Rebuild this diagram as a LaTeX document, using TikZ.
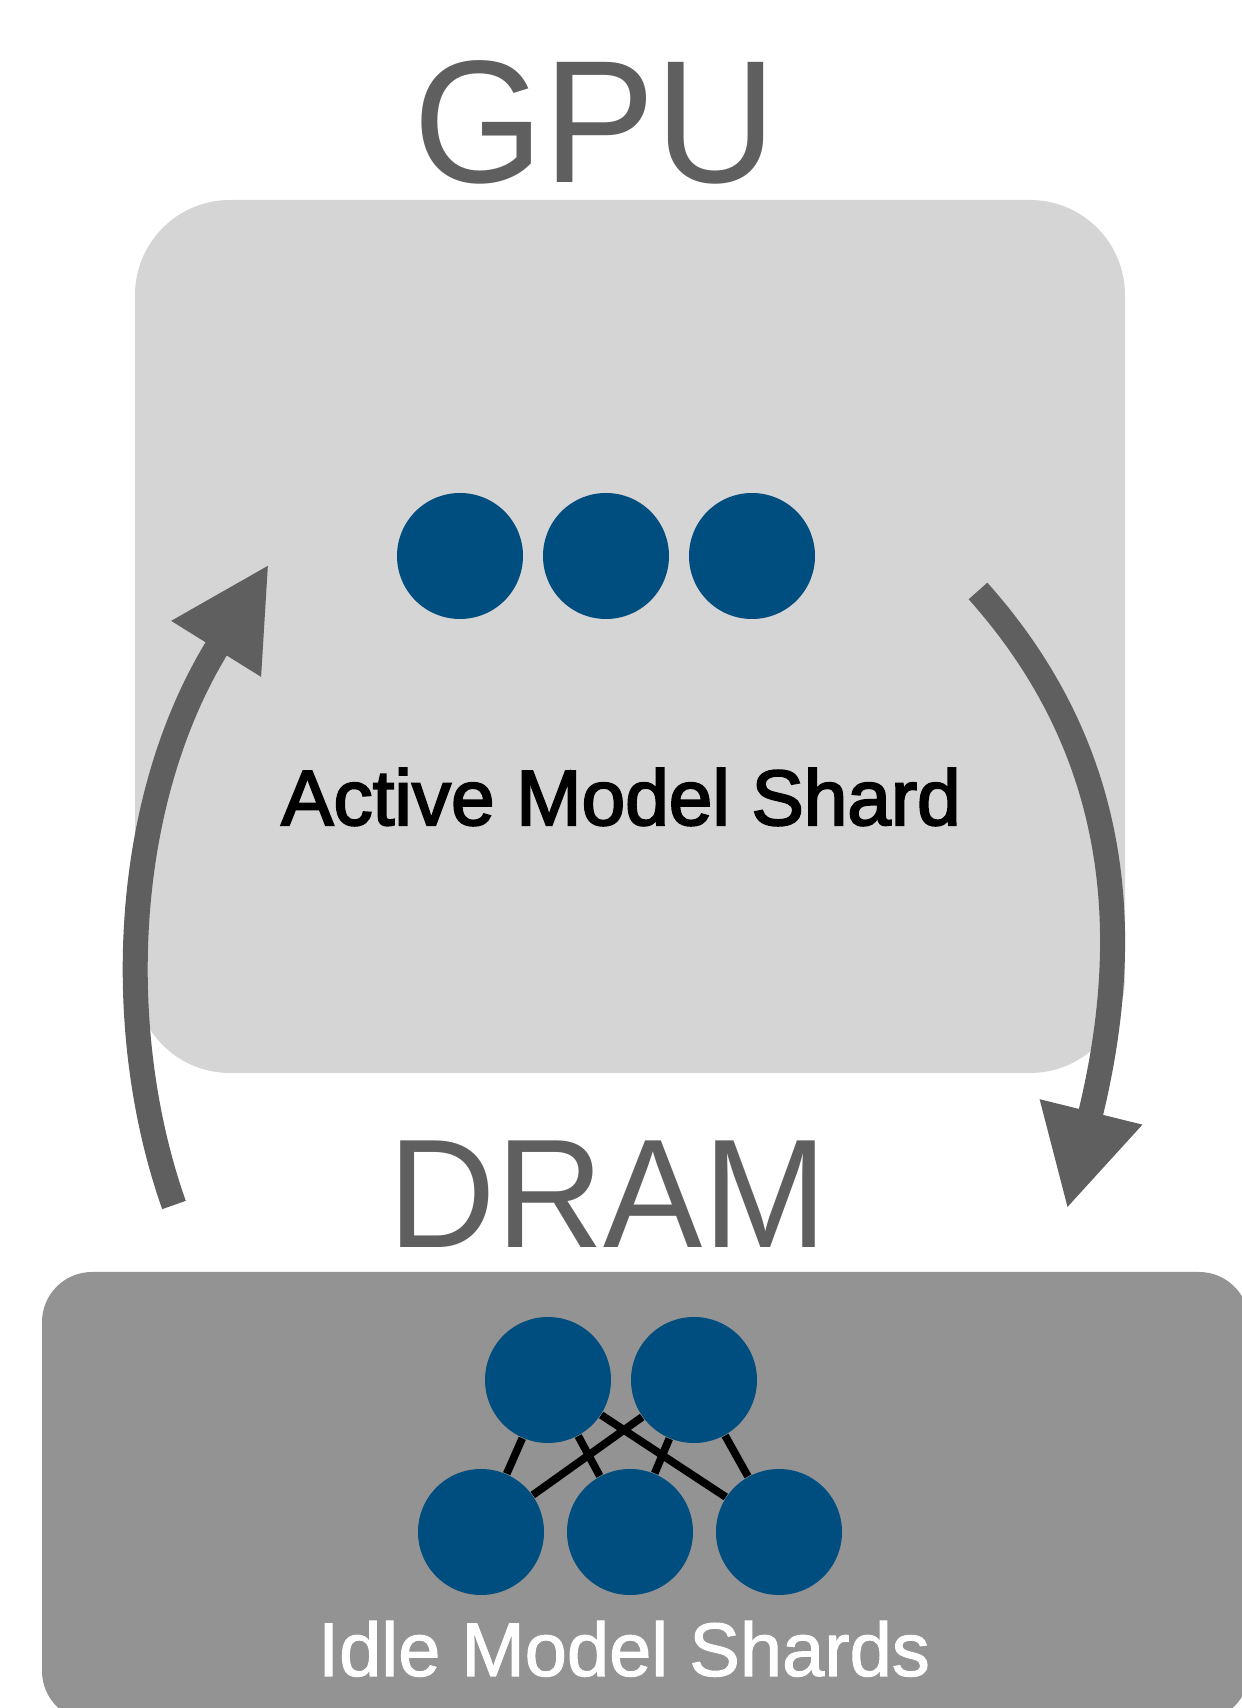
\documentclass[tikz,border=0pt]{standalone}
\usepackage{fontspec}
\usetikzlibrary{arrows.meta}
\newfontfamily\labelfont[FakeBold=2.6]{Liberation Sans}
\newfontfamily\idlefont[FakeBold=1.4]{Liberation Sans}
\newfontfamily\titlefont[FakeStretch=0.96]{Liberation Sans}
\definecolor{gpugray}{HTML}{D5D5D5}
\definecolor{dramgray}{HTML}{939393}
\definecolor{inkgray}{HTML}{5F5F5F}
\definecolor{shardblue}{HTML}{004D7F}

\begin{document}
\begin{tikzpicture}[scale=1.0,>={Triangle[length=1.0cm,width=0.98cm]},
    shard/.style={circle,fill=shardblue,minimum size=1.26cm,inner sep=0pt},
    link/.style={line width=2.2pt},
    flow/.style={->,line width=0.25cm,draw=inkgray}]
  \useasboundingbox (0,0) rectangle (12.42,17.08);
  % memory regions
  \fill[gpugray,rounded corners=0.95cm] (1.35,6.35) rectangle (11.25,15.08);
  \fill[dramgray,rounded corners=0.5cm] (0.42,-0.13) rectangle (12.49,4.36);
  \node[anchor=base,text=inkgray,font=\titlefont\fontsize{49.7}{50}\selectfont] (gpu) at (5.95,15.25) {GPU};
  \node[anchor=base,text=inkgray,font=\titlefont\fontsize{44.1}{45}\selectfont] (dram) at (6.08,4.60) {DRAM};
  \node[anchor=base,font=\labelfont\fontsize{22.3}{23}\selectfont] (active) at (6.21,8.83) {Active Model Shard};
  \node[anchor=base,text=white,font=\idlefont\fontsize{21.6}{22}\selectfont] (idle) at (6.24,0.32) {Idle Model Shards};
  % shard on the GPU
  \node[shard] (g1) at (4.60,11.52) {};
  \node[shard] (g2) at (6.06,11.52) {};
  \node[shard] (g3) at (7.52,11.52) {};
  % shards waiting in DRAM
  \node[shard] (t1) at (5.48,3.28) {};
  \node[shard] (t2) at (6.94,3.28) {};
  \node[shard] (b1) at (4.81,1.76) {};
  \node[shard] (b2) at (6.30,1.76) {};
  \node[shard] (b3) at (7.79,1.76) {};
  \foreach \t in {t1,t2}
    \foreach \b in {b1,b2,b3}
      \draw[link] (\t) -- (\b);
  % swap in and out
  \coordinate (loadTail) at (1.74,5.03);
  \coordinate (loadTip) at (2.69,11.44);
  \coordinate (evictTail) at (9.78,11.17);
  \coordinate (evictTip) at (10.67,4.99);
  \draw[flow] (loadTail) .. controls (1.14,6.72) and (1.195,9.04) .. (loadTip);
  \draw[flow] (evictTail) .. controls (11.12,9.67) and (11.39,7.90) .. (evictTip);
\end{tikzpicture}
\end{document}
